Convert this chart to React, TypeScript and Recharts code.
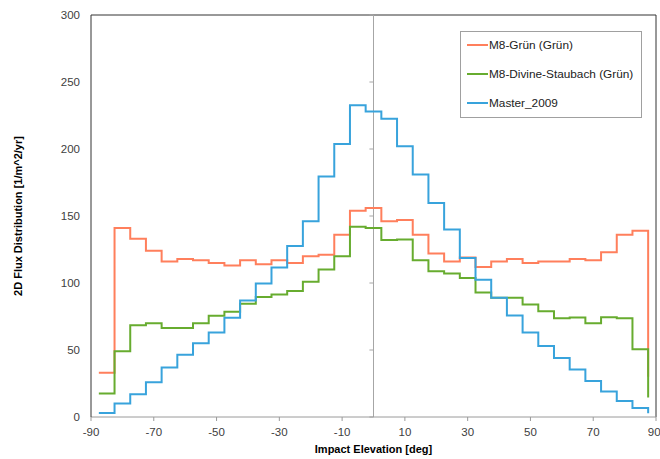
import { LineChart, Line, XAxis, YAxis, ReferenceLine } from "recharts";

// bin edges in degrees; each value below holds from its edge to the next one
const edges = [
  -87.5, -82.5, -77.5, -72.5, -67.5, -62.5, -57.5, -52.5, -47.5, -42.5, -37.5, -32.5,
  -27.5, -22.5, -17.5, -12.5, -7.5, -2.5, 2.5, 7.5, 12.5, 17.5, 22.5, 27.5,
  32.5, 37.5, 42.5, 47.5, 52.5, 57.5, 62.5, 67.5, 72.5, 77.5, 82.5, 87.5,
];

const gruen = [
  33, 141, 133, 124, 116, 118, 117, 115, 113, 117, 114, 117,
  115, 120, 121, 136, 154, 156, 146, 147, 136, 122, 116, 119,
  112, 116, 118, 115, 116, 116, 118, 117, 123, 136, 139, 30,
];

const staubach = [
  17.5, 49, 68.5, 70, 66.5, 66.5, 70, 75.5, 78.5, 84.5, 89.5, 91.5,
  94, 101, 110, 120, 142, 141, 132, 132.5, 117, 108.7, 107, 103.7,
  93, 89, 89, 84, 79, 73.7, 74.2, 70, 74.5, 73.7, 50.5, 14.5,
];

const master = [
  3, 10, 17, 26, 37, 46.5, 55, 63, 74, 87, 99.7, 111.5,
  127.7, 146, 179.5, 203.7, 232.7, 228, 222.6, 202, 181, 159.7, 140, 118.7,
  102.5, 89, 75.7, 63, 53, 44, 35.5, 26.8, 19, 12, 6.8, 2.8,
];

const xTicks = [-90, -70, -50, -30, -10, 10, 30, 50, 70, 90];
const yTicks = [0, 50, 100, 150, 200, 250, 300];

const series = [
  { key: "gruen", name: "M8-Grün (Grün)", color: "#ff7f5c" },
  { key: "staubach", name: "M8-Divine-Staubach (Grün)", color: "#67ac2f" },
  { key: "master", name: "Master_2009", color: "#38a3dc" },
];

const data = edges.map((x, i) => ({
  x,
  gruen: gruen[i],
  staubach: staubach[i],
  master: master[i],
}));

const tickStyle = { fontSize: 11.5, fill: "#404040" };
const titleStyle = { fontSize: 11, fontWeight: "bold", fill: "#000" };

export default function App() {
  return (
    <div
      style={{
        position: "absolute",
        left: 0,
        top: 0,
        width: 660,
        height: 459,
        background: "#fff",
        fontFamily: "'Liberation Sans', Arial, sans-serif",
      }}
    >
      <LineChart
        width={660}
        height={459}
        data={data}
        margin={{ top: 15, right: 4, bottom: 0, left: 0 }}
      >
        <XAxis
          dataKey="x"
          type="number"
          domain={[-90, 90]}
          ticks={xTicks}
          allowDataOverflow
          height={42}
          tick={tickStyle}
          tickSize={4}
          tickMargin={7}
          stroke="#9a9a9a"
          label={{
            value: "Impact Elevation [deg]",
            position: "insideBottom",
            offset: 6,
            style: titleStyle,
          }}
        />
        <YAxis
          type="number"
          domain={[0, 300]}
          ticks={yTicks}
          width={91}
          tick={tickStyle}
          tickLine={false}
          tickSize={6}
          tickMargin={5}
          stroke="#333"
          label={{
            value: "2D Flux Distribution [1/m^2/yr]",
            angle: -90,
            position: "center",
            dx: -27,
            style: titleStyle,
          }}
        />
        {/* frame: top and right edges */}
        <ReferenceLine y={300} stroke="#333" />
        <ReferenceLine x={90} stroke="#333" />
        {/* vertical axis crossing at zero, with its own ticks */}
        <ReferenceLine x={0} stroke="#a6a6a6" />
        {yTicks.map((v) => (
          <ReferenceLine
            key={v}
            stroke="#a6a6a6"
            segment={[
              { x: -1.3, y: v },
              { x: 0, y: v },
            ]}
          />
        ))}
        {series.map((s) => (
          <Line
            key={s.key}
            dataKey={s.key}
            name={s.name}
            type="stepAfter"
            stroke={s.color}
            strokeWidth={2}
            dot={false}
            isAnimationActive={false}
          />
        ))}
      </LineChart>

      <div
        style={{
          position: "absolute",
          left: 460,
          top: 31,
          width: 182,
          height: 87,
          boxSizing: "border-box",
          border: "1px solid #a0a0a0",
          background: "#fff",
          fontSize: 11.8,
          color: "#222",
        }}
      >
        {series.map((s, i) => (
          <div
            key={s.key}
            style={{
              position: "absolute",
              left: 6,
              top: 6 + i * 28.8,
              height: 14,
              display: "flex",
              alignItems: "center",
              whiteSpace: "nowrap",
            }}
          >
            <span
              style={{
                display: "inline-block",
                width: 21,
                height: 2,
                background: s.color,
                marginRight: 1,
              }}
            />
            {s.name}
          </div>
        ))}
      </div>
    </div>
  );
}
